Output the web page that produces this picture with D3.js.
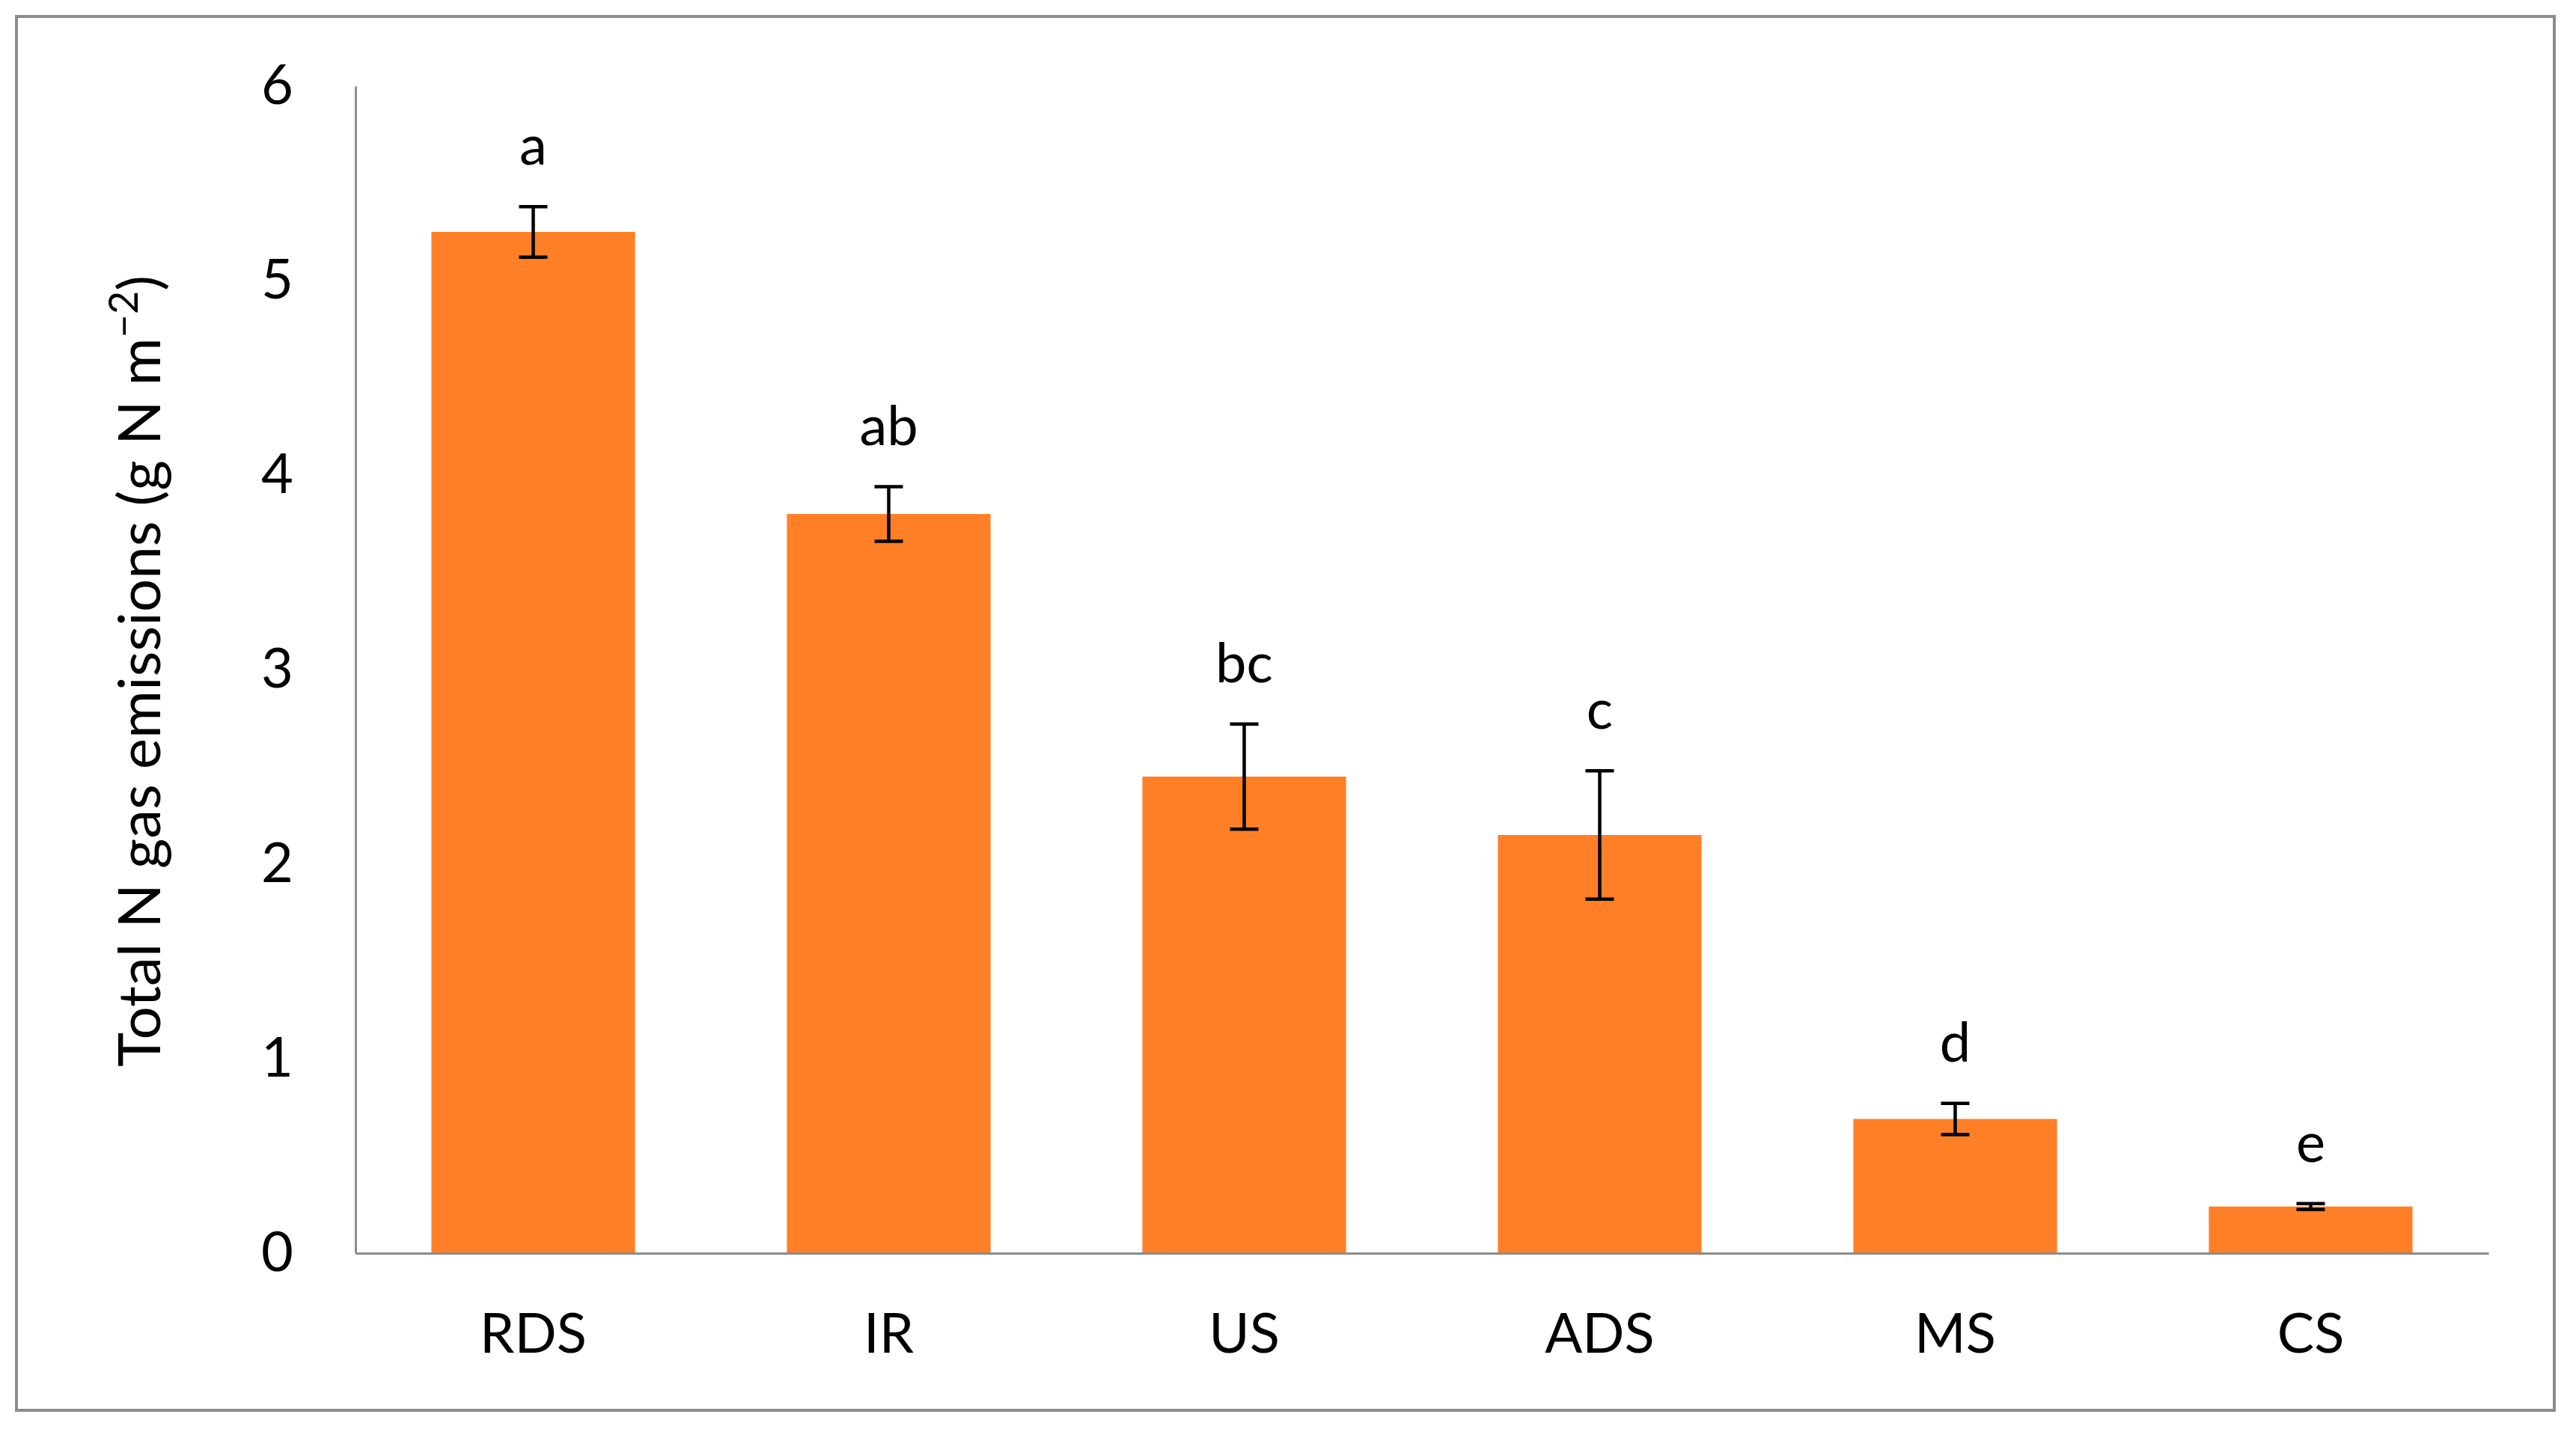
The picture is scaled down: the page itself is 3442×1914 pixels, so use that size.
<!DOCTYPE html>
<meta charset="utf-8">
<style>
body {
  margin: 0;
  background: #fff;
  font-family: "Lato", sans-serif;
}
.tick text {
  font-family: "Lato", sans-serif;
}
</style>
<body>
<script src="https://cdn.jsdelivr.net/npm/d3@7"></script>
<script>

// data
var categories = ["RDS", "IR", "US", "ADS", "MS", "CS"];
var values = [5.25, 3.80, 2.45, 2.15, 0.69, 0.24];
var errors = [0.13, 0.14, 0.27, 0.33, 0.08, 0.015];
var letters = ["a", "ab", "bc", "c", "d", "e"];
var yTicks = [0, 1, 2, 3, 4, 5, 6];

var W = 3442, H = 1914;
var margin = {top: 115, right: 120, bottom: 239, left: 475},
    width = 3325 - margin.left,
    height = 1675 - margin.top;

var svg = d3.select("body").append("svg")
  .attr("width", W)
  .attr("height", H);

// outer frame
svg.append("rect")
  .attr("x", 22)
  .attr("y", 22)
  .attr("width", 3391)
  .attr("height", 1863)
  .attr("fill", "none")
  .attr("stroke", "#8c8c8c")
  .attr("stroke-width", 4);

var g = svg.append("g")
  .attr("transform", "translate(" + margin.left + "," + margin.top + ")");

var x = d3.scaleBand()
  .domain(categories)
  .range([0, width])
  .paddingInner(0.427)
  .paddingOuter(0.2135);

var y = d3.scaleLinear()
  .domain([0, 6])
  .range([height, 0]);

var data = categories.map(function (c, i) {
  return {cat: c, v: values[i], e: errors[i], l: letters[i]};
});

g.selectAll(".bar")
  .data(data)
  .enter()
  .append("rect")
  .attr("class", "bar")
  .attr("x", function (d) { return x(d.cat); })
  .attr("y", function (d) { return y(d.v); })
  .attr("width", x.bandwidth())
  .attr("height", function (d) { return height - y(d.v); })
  .attr("fill", "#ff7f27");

// error bars
var eb = g.selectAll(".err")
  .data(data)
  .enter()
  .append("g")
  .attr("class", "err")
  .attr("stroke", "#000")
  .attr("stroke-width", 4.5);

eb.append("line")
  .attr("x1", function (d) { return x(d.cat) + x.bandwidth() / 2; })
  .attr("x2", function (d) { return x(d.cat) + x.bandwidth() / 2; })
  .attr("y1", function (d) { return y(d.v + d.e); })
  .attr("y2", function (d) { return y(d.v - d.e); });

eb.selectAll(".cap")
  .data(function (d) { return [[d, d.v + d.e], [d, d.v - d.e]]; })
  .enter()
  .append("line")
  .attr("x1", function (p) { return x(p[0].cat) + x.bandwidth() / 2 - 19; })
  .attr("x2", function (p) { return x(p[0].cat) + x.bandwidth() / 2 + 19; })
  .attr("y1", function (p) { return y(p[1]); })
  .attr("y2", function (p) { return y(p[1]); });

// significance letters
g.selectAll(".letter")
  .data(data)
  .enter()
  .append("text")
  .attr("class", "letter")
  .attr("x", function (d) { return x(d.cat) + x.bandwidth() / 2; })
  .attr("y", function (d) { return y(d.v + d.e) - 56; })
  .attr("text-anchor", "middle")
  .attr("font-size", 74)
  .attr("fill", "#000")
  .text(function (d) { return d.l; });

// axes
var xAxis = g.append("g")
  .attr("transform", "translate(0," + height + ")")
  .call(d3.axisBottom(x).tickSize(0).tickPadding(80));
xAxis.select(".domain").attr("stroke", "#8c8c8c").attr("stroke-width", 3);
xAxis.selectAll("text").attr("font-size", 74).attr("fill", "#000");

var yAxis = g.append("g")
  .call(d3.axisLeft(y).tickValues(yTicks).tickFormat(d3.format("d")).tickSize(0).tickPadding(83));
yAxis.select(".domain").attr("stroke", "#8c8c8c").attr("stroke-width", 3);
yAxis.selectAll("text").attr("font-size", 74).attr("fill", "#000");

// y axis title
var title = svg.append("text")
  .attr("transform", "translate(214," + (margin.top + height / 2 + 2) + ") rotate(-90)")
  .attr("text-anchor", "middle")
  .attr("font-size", 78)
  .attr("fill", "#000");
title.append("tspan").text("Total N gas emissions (g N m");
title.append("tspan").attr("font-size", 54).attr("dy", -30).text("\u22122");
title.append("tspan").attr("dy", 30).text(")");

</script>
</body>
